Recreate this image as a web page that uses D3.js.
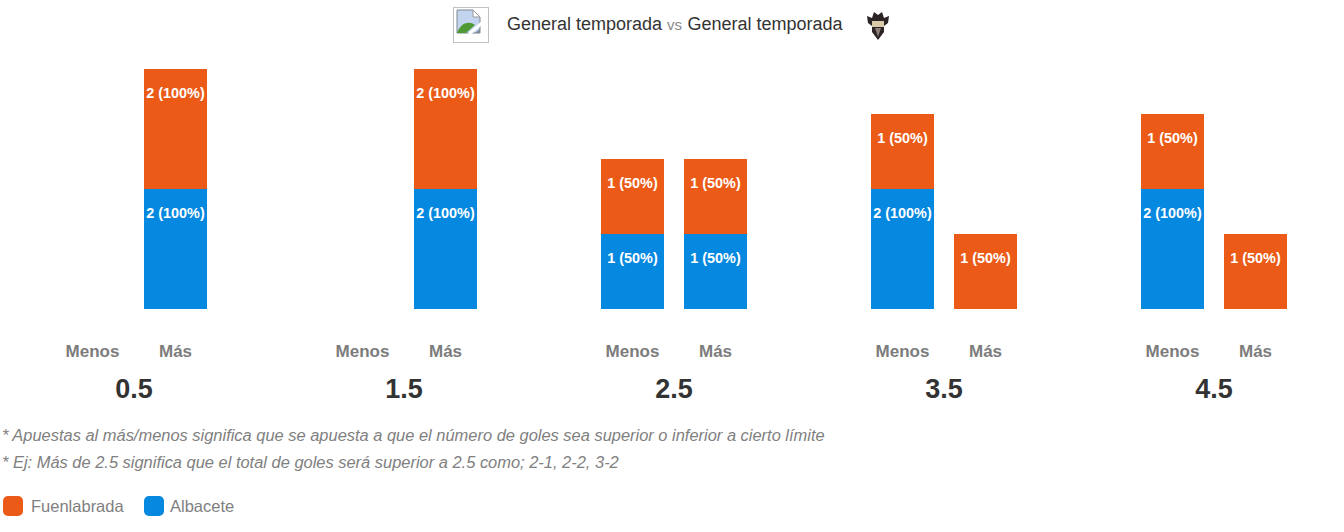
<!DOCTYPE html>
<html>
<head>
<meta charset="utf-8">
<script src="https://cdn.jsdelivr.net/npm/d3@7"></script>
<style>
html, body { margin: 0; padding: 0; background: #fff; }
svg { display: block; font-family: "Liberation Sans", Arial, sans-serif; }
</style>
</head>
<body>
<svg id="chart"></svg>
<script>
const lines = ['0.5', '1.5', '2.5', '3.5', '4.5'];
const sides = ['Menos', 'Más'];
const teams = ['Albacete', 'Fuenlabrada'];
const legendTeams = ['Fuenlabrada', 'Albacete'];

// goals counts per line
const albaceteMenos = [0, 0, 1, 2, 2];
const albaceteMas = [2, 2, 1, 0, 0];
const fuenlabradaMenos = [0, 0, 1, 1, 1];
const fuenlabradaMas = [2, 2, 1, 1, 1];

const albacetePctMenos = [0, 0, 50, 100, 100];
const albacetePctMas = [100, 100, 50, 0, 0];
const fuenlabradaPctMenos = [0, 0, 50, 50, 50];
const fuenlabradaPctMas = [100, 100, 50, 50, 50];

const notes = [
    '* Apuestas al más/menos significa que se apuesta a que el número de goles sea superior o inferior a cierto límite',
    '* Ej: Más de 2.5 significa que el total de goles será superior a 2.5 como; 2-1, 2-2, 3-2'
];

const width = 1344, height = 532;
const baseY = 309;
const colors = { Fuenlabrada: '#eb5b17', Albacete: '#0588e0' };

const svg = d3.select('#chart').attr('width', width).attr('height', height);

// the source chart does not scale segments linearly: 1 is 75px, 2 is 120px
const segment = d3.scaleLinear().domain([0, 1, 2]).range([0, 75, 120]);
const xGroup = d3.scaleBand().domain(lines).range([-1, 1349]);
const xSide = d3.scaleBand().domain(sides).range([-73, 73]).paddingInner(20 / 83);

function valuesOf(team, side, i) {
    if (team === 'Albacete') {
        return side === 'Menos'
            ? { n: albaceteMenos[i], pct: albacetePctMenos[i] }
            : { n: albaceteMas[i], pct: albacetePctMas[i] };
    }
    return side === 'Menos'
        ? { n: fuenlabradaMenos[i], pct: fuenlabradaPctMenos[i] }
        : { n: fuenlabradaMas[i], pct: fuenlabradaPctMas[i] };
}

lines.forEach((line, i) => {
    const g = svg.append('g')
        .attr('transform', `translate(${xGroup(line) + xGroup.bandwidth() / 2}, 0)`);

    sides.forEach(side => {
        let y = baseY;
        teams.forEach(team => {
            const v = valuesOf(team, side, i);
            if (!v.n) return;
            const h = segment(v.n);
            y -= h;
            g.append('rect')
                .attr('x', xSide(side))
                .attr('y', y)
                .attr('width', xSide.bandwidth())
                .attr('height', h)
                .attr('fill', colors[team]);
            g.append('text')
                .attr('x', xSide(side) + xSide.bandwidth() / 2)
                .attr('y', y + 29)
                .attr('text-anchor', 'middle')
                .attr('font-size', 14.4)
                .attr('font-weight', 'bold')
                .attr('fill', '#fff')
                .text(`${v.n} (${v.pct}%)`);
        });
    });

    // Menos / Más labels
    const sideAxis = g.append('g')
        .attr('transform', 'translate(0, 345)')
        .call(d3.axisBottom(xSide).tickSize(0).tickPadding(0));
    sideAxis.select('.domain').remove();
    sideAxis.selectAll('text')
        .attr('font-family', 'inherit')
        .attr('font-size', 17)
        .attr('font-weight', 'bold')
        .attr('fill', '#7c7c7c');
});

const groupAxis = svg.append('g')
    .attr('transform', 'translate(0, 379)')
    .call(d3.axisBottom(xGroup).tickSize(0).tickPadding(0));
groupAxis.select('.domain').remove();
groupAxis.selectAll('text')
    .attr('font-family', 'inherit')
    .attr('font-size', 27)
    .attr('font-weight', 'bold')
    .attr('fill', '#333');

// title
const title = svg.append('text')
    .attr('y', 30)
    .attr('font-size', 18)
    .attr('fill', '#333');
title.append('tspan').attr('x', 507).text('General temporada');
title.append('tspan').attr('x', 667).attr('font-size', 15).attr('fill', '#888').text('vs');
title.append('tspan').attr('x', 687.5).text('General temporada');

// broken image placeholder
const broken = svg.append('g').attr('transform', 'translate(453, 7)');
broken.append('rect').attr('x', 0.5).attr('y', 0.5).attr('width', 35).attr('height', 35)
    .attr('fill', '#fff').attr('stroke', '#c0c0c0');
broken.append('path').attr('d', 'M4 3H20L27 10V26H4Z').attr('fill', '#c3d4ee').attr('stroke', '#7d8792');
broken.append('path').attr('d', 'M4 26C7 17 15 13 22 18L13 26Z').attr('fill', '#4f9a35');
broken.append('path').attr('d', 'M20 3V10H27Z').attr('fill', '#fff').attr('stroke', '#999');
broken.append('path').attr('d', 'M16 27L29 16').attr('stroke', '#fff').attr('stroke-width', 3);
broken.append('path').attr('d', 'M22 26L27 22V26Z').attr('fill', '#7d8792');

// club crest
const crest = svg.append('g').attr('transform', 'translate(867, 11)');
crest.append('path').attr('d', 'M0 5L5 7L7 1L11 4L15 1L17 7L22 5L21 12L17 15V21L11 29L5 21V15L1 12Z').attr('fill', '#2b2326');
crest.append('path').attr('d', 'M5 10H17V16H5Z').attr('fill', '#d8c9a8');
crest.append('path').attr('d', 'M8 17H14L11 26Z').attr('fill', '#8c7f7a');

// notes
svg.selectAll('.note')
    .data(notes)
    .join('text')
    .attr('class', 'note')
    .attr('x', 2)
    .attr('y', (d, i) => 441 + i * 27)
    .attr('font-size', 16.46)
    .attr('font-style', 'italic')
    .attr('fill', '#808080')
    .text(d => d);

// legend
const legendX = d3.scaleOrdinal().domain(legendTeams).range([3, 144]);
const legendTextX = d3.scaleOrdinal().domain(legendTeams).range([28, 26]);
const legend = svg.selectAll('.legend')
    .data(legendTeams)
    .join('g')
    .attr('class', 'legend')
    .attr('transform', d => `translate(${legendX(d)}, 496)`);
legend.append('rect')
    .attr('width', 20)
    .attr('height', 20)
    .attr('rx', 5)
    .attr('fill', d => colors[d]);
legend.append('text')
    .attr('x', d => legendTextX(d))
    .attr('y', 16)
    .attr('font-size', 16.5)
    .attr('fill', '#808080')
    .text(d => d);
</script>
</body>
</html>
